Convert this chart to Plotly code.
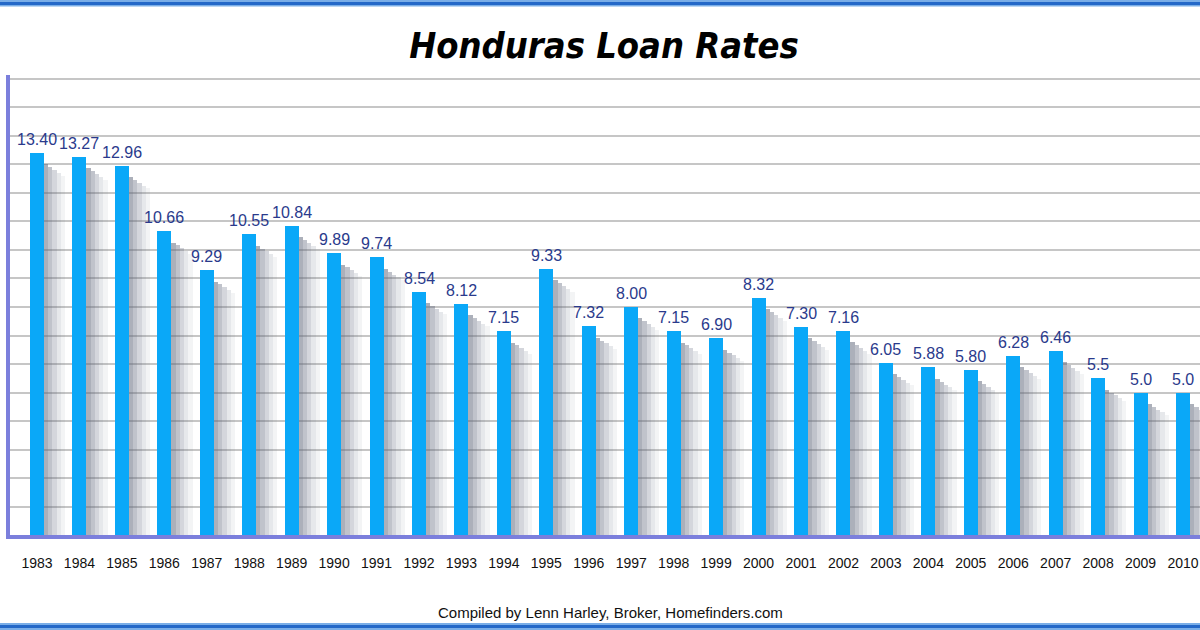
import plotly.graph_objects as go

years = ["1983", "1984", "1985", "1986", "1987", "1988", "1989", "1990", "1991", "1992",
         "1993", "1994", "1995", "1996", "1997", "1998", "1999", "2000", "2001", "2002",
         "2003", "2004", "2005", "2006", "2007", "2008", "2009", "2010"]
rates = [13.40, 13.27, 12.96, 10.66, 9.29, 10.55, 10.84, 9.89, 9.74, 8.54,
         8.12, 7.15, 9.33, 7.32, 8.00, 7.15, 6.90, 8.32, 7.30, 7.16,
         6.05, 5.88, 5.80, 6.28, 6.46, 5.5, 5.0, 5.0]
labels = ["13.40", "13.27", "12.96", "10.66", "9.29", "10.55", "10.84", "9.89", "9.74", "8.54",
          "8.12", "7.15", "9.33", "7.32", "8.00", "7.15", "6.90", "8.32", "7.30", "7.16",
          "6.05", "5.88", "5.80", "6.28", "6.46", "5.5", "5.0", "5.0"]

idx = list(range(len(years)))
BW = 0.33

fig = go.Figure()

# soft shadow layers to the right of each bar
shadow_alphas = [0.50, 0.38, 0.26, 0.15, 0.07]
for k, a in enumerate(shadow_alphas):
    fig.add_trace(go.Bar(
        x=idx, y=[max(v - 0.4 - 0.1 * k, 0) for v in rates],
        width=0.1, offset=BW / 2 + 0.1 * k,
        marker=dict(color=f"rgba(90,98,118,{a})", line=dict(width=0)),
        hoverinfo="skip", showlegend=False))

fig.add_trace(go.Bar(
    x=idx, y=rates, width=BW, offset=-BW / 2,
    marker=dict(color="#0aa8f8", line=dict(width=0)),
    showlegend=False))

for i, v, t in zip(idx, rates, labels):
    fig.add_annotation(x=i, y=v, text=t, showarrow=False, yanchor="bottom", yshift=3,
                       font=dict(family="Liberation Sans, Arial, sans-serif", size=16, color="#2a3a8c"))

PT, PB = 75, 535
PH = PB - PT

def py(p):
    return (PB - p) / PH

# top and bottom blue borders
fig.add_shape(type="rect", xref="paper", yref="paper", x0=-0.02, x1=1.02, y0=py(6.5), y1=py(-1),
              fillcolor="#7aaee8", line=dict(width=0), layer="above")
fig.add_shape(type="rect", xref="paper", yref="paper", x0=-0.02, x1=1.02, y0=py(5), y1=py(2),
              fillcolor="#2468c8", line=dict(width=0), layer="above")
fig.add_shape(type="rect", xref="paper", yref="paper", x0=-0.02, x1=1.02, y0=py(631), y1=py(623),
              fillcolor="#7aaee8", line=dict(width=0), layer="above")
fig.add_shape(type="rect", xref="paper", yref="paper", x0=-0.02, x1=1.02, y0=py(628), y1=py(625),
              fillcolor="#2468c8", line=dict(width=0), layer="above")

fig.add_annotation(xref="paper", yref="paper", x=(610 - 10) / 1190, y=py(612),
                   text="Compiled by Lenn Harley, Broker, Homefinders.com", showarrow=False,
                   yanchor="middle", font=dict(family="Liberation Sans, Arial, sans-serif", size=15, color="#111111"))

fig.update_layout(
    width=1200, height=630,
    margin=dict(l=10, r=0, t=PT, b=630 - PB),
    paper_bgcolor="white", plot_bgcolor="white",
    barmode="overlay", bargap=0,
    title=dict(text="<b><i>Honduras Loan Rates</i></b>", x=604 / 1200, xanchor="center",
               y=1 - 45 / 630, yanchor="middle",
               font=dict(family="DejaVu Sans Condensed, Lato, sans-serif",
                         size=36, color="black", weight=900)),
    xaxis=dict(range=[-0.636, 27.40], tickmode="array", tickvals=idx, ticktext=years,
               showgrid=False, zeroline=False, showline=True, linecolor="#7b7fdc", linewidth=4,
               ticks="", ticklabelstandoff=12,
               tickfont=dict(family="Liberation Sans, Arial, sans-serif", size=14, color="#111111")),
    yaxis=dict(range=[0, 16.14], dtick=1, showgrid=True, gridcolor="#c6c6c6", gridwidth=1.5,
               zeroline=False, showline=True, linecolor="#7b7fdc", linewidth=4,
               showticklabels=False, ticks=""),
)

fig.write_html("out.html")
